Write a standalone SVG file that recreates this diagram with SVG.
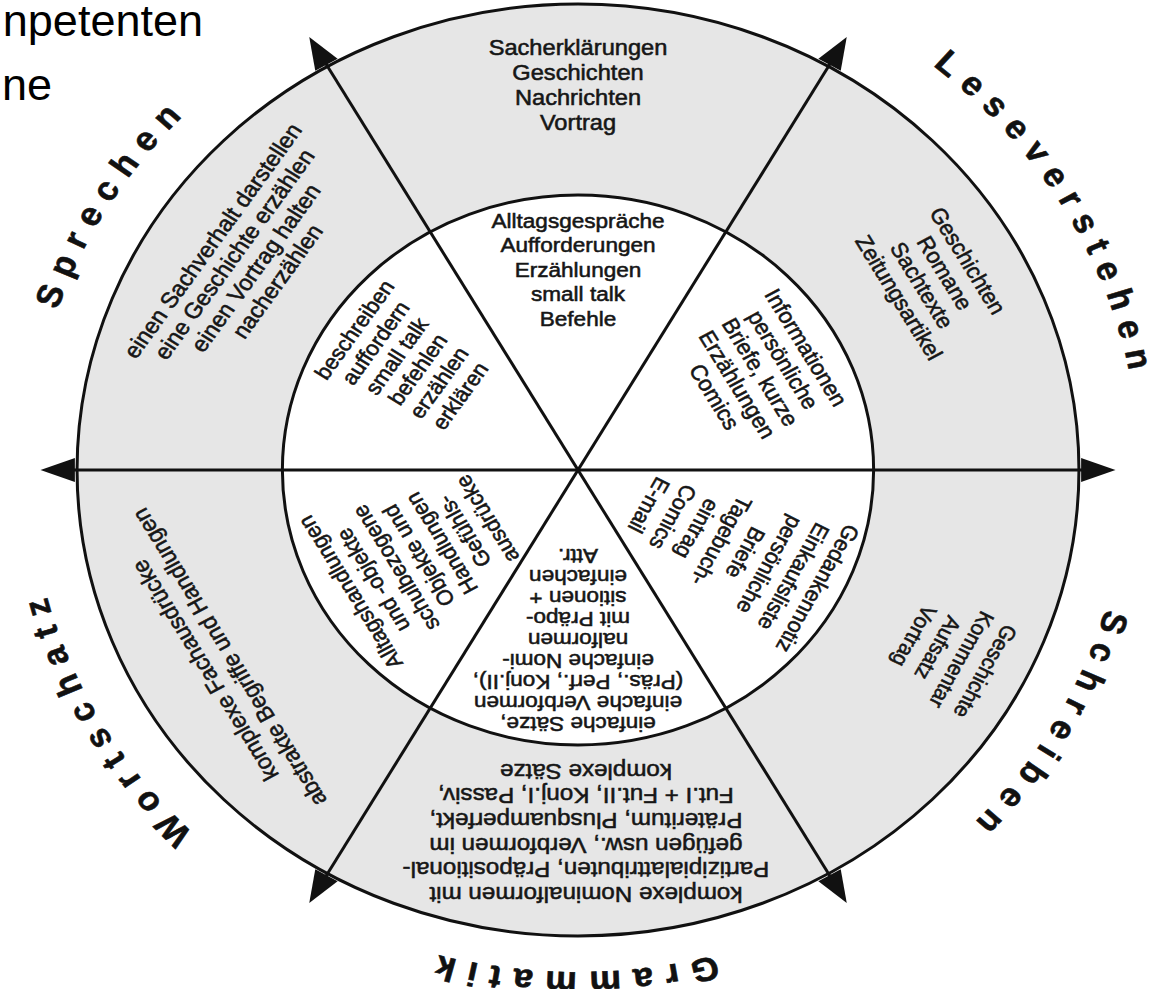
<svg xmlns="http://www.w3.org/2000/svg" width="1158" height="989" viewBox="0 0 1158 989">
<style>
.ring{fill:#e6e6e6;stroke:#111;stroke-width:3;vector-effect:non-scaling-stroke}
.inner{fill:#fff;stroke:#111;stroke-width:3;vector-effect:non-scaling-stroke}
.spoke{stroke:#111;stroke-width:3;vector-effect:non-scaling-stroke}
.ah{fill:#111}
.t{font-family:"Liberation Sans",Arial,sans-serif;fill:#161616;stroke:#161616;stroke-width:0.55;text-anchor:middle}
.o{font-size:22px}
.i{font-size:21px}
.s{font-size:20.5px}
.lbl{font-family:"Liberation Sans",Arial,sans-serif;font-weight:bold;font-size:33px;letter-spacing:11px;fill:#111;stroke:#111;stroke-width:0.6;text-anchor:middle}
.cap{font-family:"Liberation Sans",Arial,sans-serif;font-size:45px;fill:#000;text-anchor:end}
</style>
<defs>
<path id="lp522" d="M0,-522 A522,522 0 1 1 0,522 A522,522 0 1 1 0,-522"/>
<path id="lp510" d="M0,-510 A510,510 0 1 1 0,510 A510,510 0 1 1 0,-510"/>
<path id="lp502" d="M0,-502 A502,502 0 1 1 0,502 A502,502 0 1 1 0,-502"/>
<path id="ah" d="M0,0 L-12,32 L12,32 Z"/>
</defs>
<rect width="1158" height="989" fill="#fff"/>
<g id="caption">
<text class="cap" x="203" y="36">npetenten</text>
<text class="cap" x="52" y="100">ne</text>
</g>
<g id="wheel" transform="translate(578,470) scale(1.075,1)">
<g id="rings">
<circle r="466" class="ring"/>
<circle r="275" class="inner"/>
</g>
<g id="connectors">
<line class="spoke" x1="0" y1="-480" x2="0" y2="480" transform="rotate(30)"/>
<line class="spoke" x1="0" y1="-480" x2="0" y2="480" transform="rotate(90)"/>
<line class="spoke" x1="0" y1="-480" x2="0" y2="480" transform="rotate(150)"/>
<use href="#ah" class="ah" transform="rotate(30) translate(0,-500)"/>
<use href="#ah" class="ah" transform="rotate(90) translate(0,-500)"/>
<use href="#ah" class="ah" transform="rotate(150) translate(0,-500)"/>
<use href="#ah" class="ah" transform="rotate(210) translate(0,-500)"/>
<use href="#ah" class="ah" transform="rotate(270) translate(0,-500)"/>
<use href="#ah" class="ah" transform="rotate(330) translate(0,-500)"/>
</g>
<g id="sec-top">
<text class="t o"><tspan x="0" y="-414.6">Sacherklärungen</tspan><tspan x="0" y="-389.6">Geschichten</tspan><tspan x="0" y="-364.6">Nachrichten</tspan><tspan x="0" y="-339.6">Vortrag</tspan></text>
<text class="t i"><tspan x="0" y="-242.4">Alltagsgespräche</tspan><tspan x="0" y="-217.9">Aufforderungen</tspan><tspan x="0" y="-193.4">Erzählungen</tspan><tspan x="0" y="-168.9">small talk</tspan><tspan x="0" y="-144.4">Befehle</tspan></text>
</g>
<g id="sec-leseverstehen">
<text class="lbl"><textPath href="#lp522" startOffset="544">Leseverstehen</textPath></text>
<g transform="rotate(60)">
<text class="t o" style="font-size:21.5px"><tspan x="0" y="-411.2">Geschichten</tspan><tspan x="0" y="-386.6">Romane</tspan><tspan x="0" y="-362">Sachtexte</tspan><tspan x="0" y="-337.4">Zeitungsartikel</tspan></text>
<text class="t i" style="font-size:21.5px"><tspan x="0" y="-237.5">Informationen</tspan><tspan x="0" y="-212.9">persönliche</tspan><tspan x="0" y="-188.3">Briefe, kurze</tspan><tspan x="0" y="-163.7">Erzählungen</tspan><tspan x="0" y="-139.1">Comics</tspan></text>
</g>
</g>
<g id="sec-schreiben">
<text class="lbl"><textPath href="#lp510" startOffset="1071">Schreiben</textPath></text>
<g transform="rotate(118)">
<text class="t s"><tspan x="0" y="-422.1">Geschichte</tspan><tspan x="0" y="-397.1">Kommentar</tspan><tspan x="0" y="-372.1">Aufsatz</tspan><tspan x="0" y="-347.1">Vortrag</tspan></text>
<text class="t i"><tspan x="0" y="-245.3">Gedankennotiz</tspan><tspan x="0" y="-219.9">Einkaufsliste</tspan><tspan x="0" y="-194.5">persönliche</tspan><tspan x="0" y="-169.1">Briefe</tspan><tspan x="0" y="-143.7">Tagebuch-</tspan><tspan x="0" y="-118.3">eintrag</tspan><tspan x="0" y="-92.9">Comics</tspan><tspan x="0" y="-67.5">E-mail</tspan></text>
</g>
</g>
<g id="sec-grammatik">
<text class="lbl"><textPath href="#lp502" startOffset="1583">Grammatik</textPath></text>
<g transform="rotate(180)">
<text class="t o" style="font-size:22.5px"><tspan x="-7.4" y="-416.9">komplexe Nominalformen mit</tspan><tspan x="-7.4" y="-392.3">Partizipialattributen, Präpositional-</tspan><tspan x="-7.4" y="-367.7">gefügen usw., Verbformen im</tspan><tspan x="-7.4" y="-343.1">Präteritum, Plusquamperfekt,</tspan><tspan x="-7.4" y="-318.5">Fut.I + Fut.II, Konj.I, Passiv,</tspan><tspan x="-7.4" y="-293.9">komplexe Sätze</tspan></text>
<text class="t i"><tspan x="0" y="-247.4">einfache Sätze,</tspan><tspan x="0" y="-226.4">einfache Verbformen</tspan><tspan x="0" y="-205.4">(Präs., Perf., Konj.II),</tspan><tspan x="0" y="-184.4">einfache Nomi-</tspan><tspan x="0" y="-163.4">nalformen</tspan><tspan x="0" y="-142.4">mit Präpo-</tspan><tspan x="0" y="-121.4">sitionen +</tspan><tspan x="0" y="-100.4">einfachen</tspan><tspan x="0" y="-79.4">Attr.</tspan></text>
</g>
</g>
<g id="sec-wortschatz">
<text class="lbl"><textPath href="#lp510" startOffset="2142">Wortschatz</textPath></text>
<g transform="rotate(240)">
<text class="t o"><tspan x="0" y="-393">komplexe Fachausdrücke</tspan><tspan x="0" y="-367">abstrakte Begriffe und Handlungen</tspan></text>
<text class="t i"><tspan x="0" y="-237.4">Alltagshandlungen</tspan><tspan x="0" y="-212.9">und -objekte</tspan><tspan x="0" y="-188.4">schulbezogene</tspan><tspan x="0" y="-163.9">Objekte und</tspan><tspan x="0" y="-139.4">Handlungen</tspan><tspan x="0" y="-114.9">Gefühls-</tspan><tspan x="0" y="-90.4">ausdrücke</tspan></text>
</g>
</g>
<g id="sec-sprechen">
<text class="lbl"><textPath href="#lp510" startOffset="2685">Sprechen</textPath></text>
<g transform="rotate(-56)">
<text class="t o"><tspan x="0" y="-402.4">einen Sachverhalt darstellen</tspan><tspan x="0" y="-378.2">eine Geschichte erzählen</tspan><tspan x="0" y="-354">einen Vortrag halten</tspan><tspan x="0" y="-329.8">nacherzählen</tspan></text>
<text class="t i"><tspan x="0" y="-243.7">beschreiben</tspan><tspan x="0" y="-220">auffordern</tspan><tspan x="0" y="-196.3">small talk</tspan><tspan x="0" y="-172.6">befehlen</tspan><tspan x="0" y="-148.9">erzählen</tspan><tspan x="0" y="-125.2">erklären</tspan></text>
</g>
</g>
</g>
</svg>
